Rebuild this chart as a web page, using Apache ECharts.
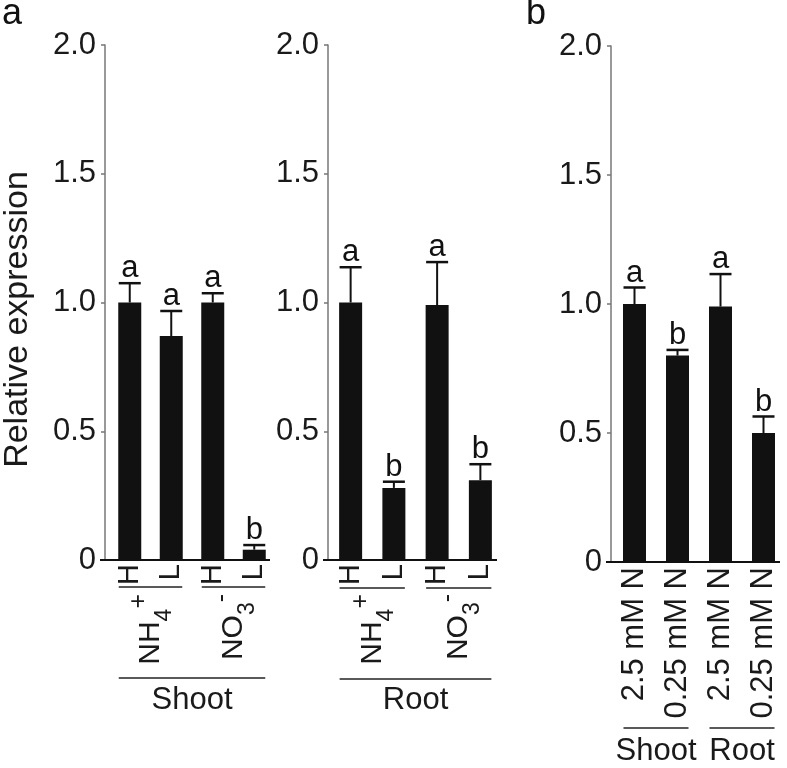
<!DOCTYPE html>
<html><head><meta charset="utf-8">
<script src="https://cdn.jsdelivr.net/npm/echarts@6/dist/echarts.min.js"></script>
<style>html,body{margin:0;padding:0;background:#fff}#c{width:787px;height:768px}</style>
</head><body><div id="c"></div>
<script>
// ---- data ----
const yTicks = ['0', '0.5', '1.0', '1.5', '2.0'];
const yTitle = 'Relative expression';
const panelLetters = ['a', 'b'];
const levelCats = ['H', 'L', 'H', 'L'];
const ionGroups = ['NH4+', 'NO3-'];
const tissueGroups = ['Shoot', 'Root'];
const shootValues = [1.00, 0.87, 1.00, 0.04];
const shootErrTop = [1.075, 0.967, 1.036, 0.058];
const shootLetters = ['a', 'a', 'a', 'b'];
const rootValues = [1.00, 0.28, 0.99, 0.31];
const rootErrTop = [1.137, 0.304, 1.157, 0.372];
const rootLetters = ['a', 'b', 'a', 'b'];
const nitrogenCats = ['2.5 mM N', '0.25 mM N', '2.5 mM N', '0.25 mM N'];
const nValues = [1.00, 0.80, 0.99, 0.50];
const nErrTop = [1.064, 0.822, 1.116, 0.564];
const nLetters = ['a', 'b', 'a', 'b'];
// bracket structure: [first category, last category, level]
const ionBrackets = [[0, 1, 0], [2, 3, 0], [0, 3, 1]];
const tissueBrackets = [[0, 1, 1], [2, 3, 1]];

// ---- chart ----
const FONT = 'Liberation Sans, Arial, Helvetica, sans-serif';
const INK = '#111';
const TXT = '#1a1a1a';
const chart = echarts.init(document.getElementById('c'), null, {renderer: 'canvas'});

const grids = [
  {left: 101, top: 45, width: 174, height: 515, yOff: 4, levels: [27, 118]},
  {left: 329, top: 45, width: 173, height: 515, yOff: 1, levels: [28, 119]},
  {left: 613, top: 46, width: 172, height: 516, yOff: 2, levels: [27, 166]}
];

function ionRich(s) {
  const m = s.match(/^([A-Z]+)(\d)([+\-])$/);
  return m ? '{b|' + m[1] + '}{sub|' + m[2] + '}{sup|' + m[3] + '}' : s;
}

function yAxisFor(gi, withName) {
  const ax = {
    type: 'value', gridIndex: gi, min: 0, max: 2, interval: 0.5, offset: grids[gi].yOff,
    axisLine: {show: true, lineStyle: {color: '#777', width: 1.5}},
    axisTick: {show: true, length: 4, lineStyle: {color: '#777', width: 1.5}},
    splitLine: {show: false},
    axisLabel: {margin: 9, fontSize: 31, color: TXT, fontFamily: FONT,
      formatter: v => yTicks[Math.round(v / 0.5)]}
  };
  if (withName) {
    Object.assign(ax, {name: yTitle, nameLocation: 'middle', nameRotate: 90, nameGap: 70,
      nameTextStyle: {fontSize: 34, color: TXT, fontFamily: FONT, padding: [0, 34, 0, 0]}});
  }
  return ax;
}

function catAxis(gi, data, extra) {
  return Object.assign({
    type: 'category', gridIndex: gi, data: data, position: 'bottom',
    axisLine: {show: false}, axisTick: {show: false}, splitLine: {show: false}
  }, extra);
}

const levelLabel = {interval: 0, rotate: 90, margin: 4, fontSize: 29, color: TXT, fontFamily: FONT};
const ionLabel = {
  interval: 0, rotate: 90, margin: 0, color: TXT, fontFamily: FONT,
  formatter: ionRich,
  rich: {
    b: {fontSize: 30, color: TXT, fontFamily: FONT},
    sub: {fontSize: 23, color: TXT, fontFamily: FONT, padding: [28, 0, 0, 0]},
    sup: {fontSize: 25, color: TXT, fontFamily: FONT, padding: [0, 0, 22, 0]}
  }
};
const tissueLabel = {interval: 0, margin: 0, fontSize: 31, color: TXT, fontFamily: FONT};

const xAxes = [
  catAxis(0, levelCats, {axisLabel: levelLabel}),
  catAxis(0, ionGroups, {offset: 34, axisLabel: ionLabel}),
  catAxis(0, [tissueGroups[0]], {offset: 125, axisLabel: tissueLabel}),
  catAxis(1, levelCats, {axisLabel: levelLabel}),
  catAxis(1, ionGroups, {offset: 34, axisLabel: ionLabel}),
  catAxis(1, [tissueGroups[1]], {offset: 125, axisLabel: tissueLabel}),
  catAxis(2, nitrogenCats, {axisLabel: Object.assign({}, levelLabel, {margin: 5, fontSize: 31})}),
  catAxis(2, tissueGroups, {offset: 174, axisLabel: tissueLabel})
];

function errSeries(xi, yi, values, tops, letters) {
  return {
    type: 'custom', xAxisIndex: xi, yAxisIndex: yi, silent: true, z: 5,
    data: values.map((v, i) => [i, v, tops[i]]),
    renderItem: function (params, api) {
      const i = api.value(0);
      const base = api.coord([i, api.value(1)]);
      const top = api.coord([i, api.value(2)]);
      const hw = 11;
      return {type: 'group', children: [
        {type: 'line', shape: {x1: base[0], y1: base[1], x2: top[0], y2: top[1]}, style: {stroke: INK, lineWidth: 2}},
        {type: 'line', shape: {x1: top[0] - hw, y1: top[1], x2: top[0] + hw, y2: top[1]}, style: {stroke: INK, lineWidth: 2.5}},
        {type: 'text', x: top[0], y: top[1] + 1, style: {text: letters[params.dataIndex], fontSize: 31,
          fontFamily: FONT, fill: INK, align: 'center', verticalAlign: 'bottom'}}
      ]};
    }
  };
}

function bracketSeries(xi, yi, brackets, gi) {
  const levels = grids[gi].levels;
  return {
    type: 'custom', xAxisIndex: xi, yAxisIndex: yi, silent: true, clip: false,
    data: brackets,
    renderItem: function (params, api) {
      const a = api.coord([api.value(0), 0]);
      const b = api.coord([api.value(1), 0]);
      const y = a[1] + levels[api.value(2)];
      return {type: 'line', shape: {x1: a[0] - 11, y1: y, x2: b[0] + 11, y2: y},
        style: {stroke: '#222', lineWidth: 1.5}};
    }
  };
}

function baselineSeries(xi, yi, gi) {
  const off = grids[gi].yOff;
  return {
    type: 'custom', xAxisIndex: xi, yAxisIndex: yi, silent: true, clip: false, z: 6,
    data: [[0, 0]],
    renderItem: function (params, api) {
      const cs = params.coordSys;
      const y = cs.y + cs.height;
      return {type: 'line', shape: {x1: cs.x - off - 5, y1: y, x2: cs.x + cs.width - 5, y2: y},
        style: {stroke: INK, lineWidth: 2}};
    }
  };
}

function barSeries(xi, yi, values) {
  return {type: 'bar', xAxisIndex: xi, yAxisIndex: yi, data: values, barWidth: 23,
    itemStyle: {color: INK}, silent: true, z: 3};
}

const option = {
  animation: false,
  textStyle: {fontFamily: FONT},
  title: [
    {text: panelLetters[0], left: 2, top: -4, padding: 0, textStyle: {fontSize: 36, fontWeight: 'normal', color: INK, fontFamily: FONT}},
    {text: panelLetters[1], left: 526, top: -4, padding: 0, textStyle: {fontSize: 36, fontWeight: 'normal', color: INK, fontFamily: FONT}}
  ],
  grid: grids.map(g => ({left: g.left, top: g.top, width: g.width, height: g.height, containLabel: false})),
  xAxis: xAxes,
  yAxis: [yAxisFor(0, true), yAxisFor(1, false), yAxisFor(2, false)],
  series: [
    barSeries(0, 0, shootValues),
    errSeries(0, 0, shootValues, shootErrTop, shootLetters),
    bracketSeries(0, 0, ionBrackets, 0),
    baselineSeries(0, 0, 0),
    barSeries(3, 1, rootValues),
    errSeries(3, 1, rootValues, rootErrTop, rootLetters),
    bracketSeries(3, 1, ionBrackets, 1),
    baselineSeries(3, 1, 1),
    barSeries(6, 2, nValues),
    errSeries(6, 2, nValues, nErrTop, nLetters),
    bracketSeries(6, 2, tissueBrackets, 2),
    baselineSeries(6, 2, 2)
  ]
};
chart.setOption(option);
</script>
</body></html>
